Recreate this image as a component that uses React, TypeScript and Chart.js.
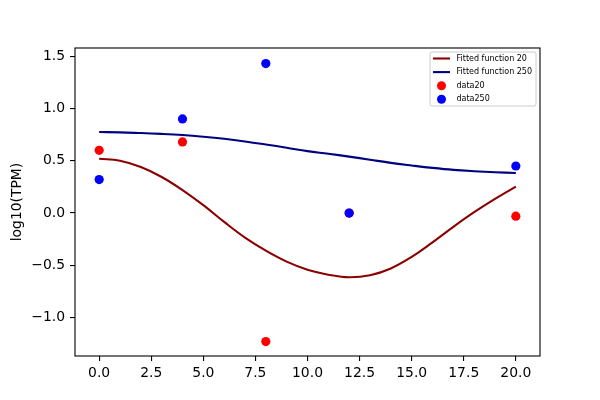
import { useEffect, useRef } from "react";
import { Chart, registerables } from "chart.js";

Chart.register(...registerables);

// measured points
const sampleX = [0, 4, 8, 12, 20];
const data20 = [0.6, 0.68, -1.23, 0.0, -0.03];
const data250 = [0.32, 0.9, 1.43, 0.0, 0.45];

// fitted curves at whole hours
const fitX = [0, 1, 2, 3, 4, 5, 6, 7, 8, 9, 10, 11, 12, 13, 14, 15, 16, 17, 18, 19, 20];
const fit20 = [0.52, 0.5, 0.44, 0.345, 0.22, 0.075, -0.085, -0.235, -0.36, -0.465, -0.543, -0.59, -0.615, -0.595, -0.53, -0.42, -0.28, -0.132, 0.008, 0.135, 0.252];
const fit250 = [0.775, 0.772, 0.765, 0.757, 0.746, 0.73, 0.71, 0.685, 0.656, 0.625, 0.592, 0.567, 0.54, 0.51, 0.48, 0.455, 0.432, 0.413, 0.4, 0.39, 0.383];

const xTicks = [0, 2.5, 5, 7.5, 10, 12.5, 15, 17.5, 20];
const yTicks = [-1.0, -0.5, 0.0, 0.5, 1.0, 1.5];

const legendItems = [
  { label: "Fitted function 20", color: "#8b0000", kind: "line" },
  { label: "Fitted function 250", color: "#000080", kind: "line" },
  { label: "data20", color: "#ff0000", kind: "dot" },
  { label: "data250", color: "#0000ff", kind: "dot" },
];

const FONT = "'DejaVu Sans', sans-serif";

const framePlugin = {
  id: "frame",
  afterDatasetsDraw(chart: any) {
    const { ctx, chartArea: a } = chart;
    ctx.save();
    ctx.strokeStyle = "#000";
    ctx.lineWidth = 1.1;
    ctx.strokeRect(a.left, a.top, a.right - a.left, a.bottom - a.top);
    ctx.restore();
  },
  afterDraw(chart: any) {
    const { ctx, chartArea: a } = chart;
    const w = 106;
    const h = 54;
    const x0 = a.right - 4 - w;
    const y0 = a.top + 4;
    ctx.save();
    ctx.beginPath();
    ctx.roundRect(x0, y0, w, h, 2);
    ctx.fillStyle = "rgba(255,255,255,0.8)";
    ctx.fill();
    ctx.strokeStyle = "#cccccc";
    ctx.lineWidth = 1;
    ctx.stroke();
    ctx.font = `8px ${FONT}`;
    ctx.textBaseline = "middle";
    legendItems.forEach((item, i) => {
      const cy = y0 + 6.5 + i * 13.6;
      if (item.kind === "line") {
        ctx.strokeStyle = item.color;
        ctx.lineWidth = 2.1;
        ctx.beginPath();
        ctx.moveTo(x0 + 3, cy);
        ctx.lineTo(x0 + 20, cy);
        ctx.stroke();
      } else {
        ctx.fillStyle = item.color;
        ctx.beginPath();
        ctx.arc(x0 + 11.5, cy, 4.5, 0, Math.PI * 2);
        ctx.fill();
      }
      ctx.fillStyle = "#000";
      ctx.fillText(item.label, x0 + 26.5, cy);
    });
    ctx.restore();
  },
};

export default function App() {
  const canvasRef = useRef<HTMLCanvasElement>(null);

  useEffect(() => {
    const ctx = canvasRef.current?.getContext("2d");
    if (!ctx) return;

    const chart = new Chart(ctx, {
      type: "scatter",
      data: {
        datasets: [
          {
            type: "line",
            label: "Fitted function 20",
            data: fitX.map((x, i) => ({ x, y: fit20[i] })),
            borderColor: "#8b0000",
            borderWidth: 2.1,
            pointRadius: 0,
            tension: 0.4,
            fill: false,
            order: 0,
          },
          {
            type: "line",
            label: "Fitted function 250",
            data: fitX.map((x, i) => ({ x, y: fit250[i] })),
            borderColor: "#000080",
            borderWidth: 2.1,
            pointRadius: 0,
            tension: 0.4,
            fill: false,
            order: 0,
          },
          {
            label: "data20",
            data: sampleX.map((x, i) => ({ x, y: data20[i] })),
            backgroundColor: "#ff0000",
            borderWidth: 0,
            pointRadius: 4.6,
            order: 2,
          },
          {
            label: "data250",
            data: sampleX.map((x, i) => ({ x, y: data250[i] })),
            backgroundColor: "#0000ff",
            borderWidth: 0,
            pointRadius: 4.6,
            order: 1,
          },
        ],
      },
      options: {
        animation: false,
        responsive: false,
        events: [],
        layout: { padding: { top: 48, right: 60, left: 0, bottom: 0 } },
        plugins: { legend: { display: false }, tooltip: { enabled: false } },
        scales: {
          x: {
            type: "linear",
            min: -1.16,
            max: 21.16,
            afterFit: (s: any) => {
              s.height = 44;
            },
            afterBuildTicks: (s: any) => {
              s.ticks = xTicks.map((v) => ({ value: v }));
            },
            border: { display: false },
            grid: { drawOnChartArea: false, drawTicks: true, tickLength: 5, color: "#000", lineWidth: 1.1 },
            ticks: {
              color: "#000",
              padding: 4,
              maxRotation: 0,
              font: { family: FONT, size: 13.9 },
              callback: (v: any) => Number(v).toFixed(1),
            },
          },
          y: {
            type: "linear",
            min: -1.368,
            max: 1.579,
            afterFit: (s: any) => {
              s.width = 75;
            },
            afterBuildTicks: (s: any) => {
              s.ticks = yTicks.map((v) => ({ value: v }));
            },
            border: { display: false },
            grid: { drawOnChartArea: false, drawTicks: true, tickLength: 5, color: "#000", lineWidth: 1.1 },
            title: {
              display: true,
              text: "log10(TPM)",
              color: "#000",
              font: { family: FONT, size: 13.9 },
              padding: { top: 9, bottom: 0 },
            },
            ticks: {
              color: "#000",
              padding: 5,
              font: { family: FONT, size: 13.9 },
              callback: (v: any) => Number(v).toFixed(1).replace("-", "\u2212"),
            },
          },
        },
      },
      plugins: [framePlugin],
    });

    return () => chart.destroy();
  }, []);

  return (
    <div style={{ position: "absolute", left: 0, top: 0, width: 600, height: 400, background: "#fff" }}>
      <canvas ref={canvasRef} width={600} height={400} style={{ display: "block" }} />
    </div>
  );
}
